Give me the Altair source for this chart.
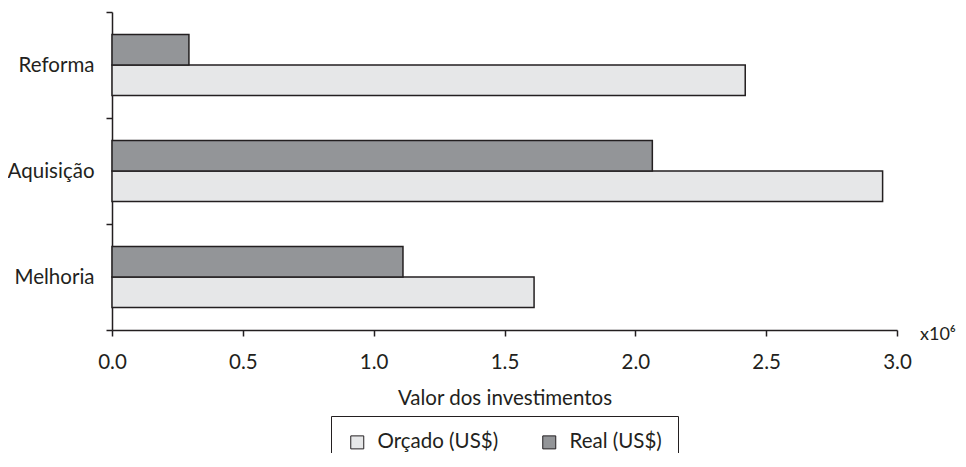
import altair as alt
import pandas as pd

categorias = ["Reforma", "Aquisição", "Melhoria"]
series = ["Orçado (US$)", "Real (US$)"]
orcado = [2.42, 2.945, 1.613]
real = [0.294, 2.065, 1.112]
x_ticks = [0.0, 0.5, 1.0, 1.5, 2.0, 2.5, 3.0]
cores = ["#e6e7e8", "#939598"]

rows = []
for c, o, r in zip(categorias, orcado, real):
    rows.append({"Categoria": c, "Serie": series[0], "Valor": o})
    rows.append({"Categoria": c, "Serie": series[1], "Valor": r})
df = pd.DataFrame(rows)

FONT = "Lato"
FS = 20.5

bars = alt.Chart(df).mark_bar(stroke="#231f20", strokeWidth=1.5).encode(
    y=alt.Y("Categoria:N", sort=categorias,
            scale=alt.Scale(paddingInner=0, paddingOuter=0),
            axis=alt.Axis(title=None, tickBand="extent", tickSize=6,
                          labelPadding=12, labelFontSize=FS, labelFont=FONT,
                          labelColor="#231f20", domainColor="#231f20",
                          tickColor="#231f20", domainWidth=1.5, tickWidth=1.5)),
    yOffset=alt.YOffset("Serie:N", sort=[series[1], series[0]],
                        scale=alt.Scale(paddingInner=0, paddingOuter=0.74)),
    x=alt.X("Valor:Q", scale=alt.Scale(domain=[0, 3], nice=False),
            axis=alt.Axis(title="Valor dos investimentos", values=x_ticks,
                          format=".1f", tickSize=6, labelPadding=16,
                          labelFlush=False, labelOverlap=False,
                          labelFontSize=FS, labelFont=FONT, labelColor="#231f20",
                          titleFontSize=FS, titleFont=FONT, titleFontWeight="normal",
                          titleColor="#231f20", titlePadding=16,
                          domainColor="#231f20", tickColor="#231f20",
                          domainWidth=1.5, tickWidth=1.5, grid=False)),
    color=alt.Color("Serie:N", sort=series,
                    scale=alt.Scale(domain=series, range=cores),
                    legend=alt.Legend(title=None, orient="none", legendX=219,
                                      legendY=404, direction="horizontal",
                                      strokeColor="#231f20", padding=16,
                                      symbolType="square", symbolSize=169,
                                      symbolStrokeColor="#231f20",
                                      symbolStrokeWidth=1, labelFontSize=FS,
                                      labelFont=FONT, labelColor="#231f20",
                                      labelOffset=10, columnPadding=40,
                                      symbolOpacity=1)),
)

expo = alt.Chart(pd.DataFrame({"t": ["x10⁶"]})).mark_text(
    align="left", baseline="middle", fontSize=18, font=FONT, color="#231f20"
).encode(text="t:N", x=alt.value(808), y=alt.value(323))

chart = alt.layer(bars, expo).properties(
    width=785, height=318,
    padding={"left": 104, "top": 4, "right": 61, "bottom": 123},
    autosize=alt.AutoSizeParams(type="none"),
).configure_view(stroke=None)

chart.save("out.html", embed_options={"renderer": "svg", "actions": False})
